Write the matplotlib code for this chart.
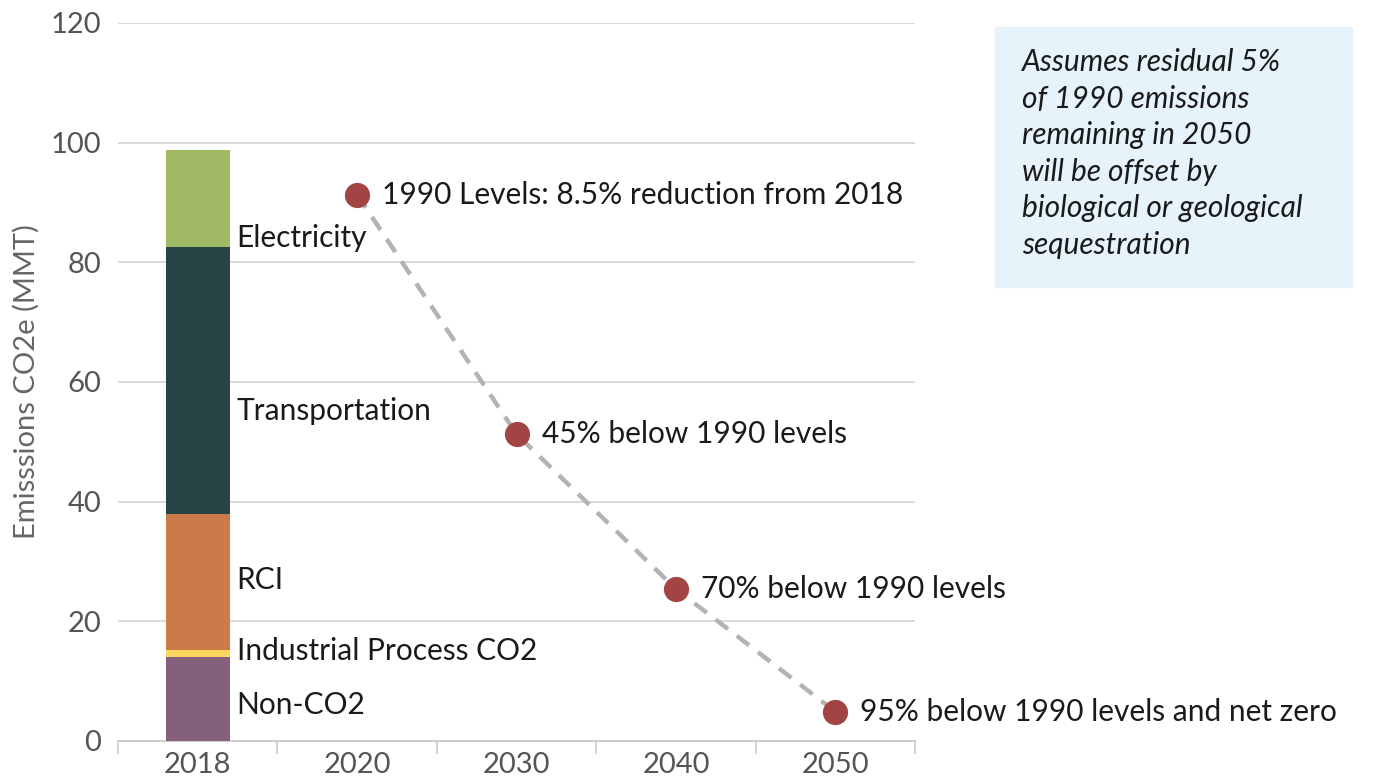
import matplotlib.pyplot as plt
import numpy as np

plt.rcParams['font.family'] = ['Lato', 'DejaVu Sans']

# Data
years = ['2018', '2020', '2030', '2040', '2050']
sectors = ['Non-CO2', 'Industrial Process CO2', 'RCI', 'Transportation', 'Electricity']
sector_values = [14.0, 1.2, 22.8, 44.6, 16.2]
sector_colors = ['#84607D', '#F9D65E', '#CB7A4A', '#264445', '#A1B964']
# where each sector name sits (y, data units)
label_y = [6.0, 15.0, 26.9, 55.2, 84.0]

target_years = ['2020', '2030', '2040', '2050']
target_values = [91.3, 51.3, 25.4, 4.9]
target_labels = ['1990 Levels: 8.5% reduction from 2018',
                 '45% below 1990 levels',
                 '70% below 1990 levels',
                 '95% below 1990 levels and net zero']

note = ('Assumes residual 5%\nof 1990 emissions\nremaining in 2050\n'
        'will be offset by\nbiological or geological\nsequestration')

fig = plt.figure(figsize=(13.82, 7.79), dpi=100)
ax = fig.add_axes([0.0854, 0.0488, 0.5767, 0.9217])

x = np.arange(len(years))
bar_w = 0.4

# stacked bar for 2018
bottom = 0
for name, val, col, ly in zip(sectors, sector_values, sector_colors, label_y):
    ax.bar(x[0], val, bottom=bottom, width=bar_w, color=col, zorder=3)
    ax.annotate(name, (x[0] + bar_w / 2, ly), xytext=(5, 0),
                textcoords='offset points', va='center', ha='left',
                fontsize=21.5, color='#1a1a1a', zorder=4)
    bottom += val

# target path
tx = [years.index(y) for y in target_years]
ax.plot(tx, target_values, color='#B3B3B3', lw=3.2, ls=(0, (3.5, 2.5)), zorder=3)
ax.scatter(tx, target_values, s=330, color='#A34444', zorder=5, linewidths=0)
for xi, yi, lab in zip(tx, target_values, target_labels):
    ax.annotate(lab, (xi, yi), xytext=(18, 0), textcoords='offset points',
                va='center', ha='left', fontsize=21.5, color='#1a1a1a', zorder=6)

ax.set_xlim(-0.5, len(years) - 0.5)
ax.set_ylim(0, 120)
ax.set_yticks(np.arange(0, 121, 20))
ax.set_xticks(x)
ax.set_xticklabels(years)
ax.set_xticks(np.arange(-0.5, len(years), 1), minor=True)
ax.tick_params(axis='x', which='major', length=0, labelsize=21, labelcolor='#555555', pad=8)
ax.tick_params(axis='x', which='minor', length=9, color='#CCCCCC', width=1.2)
ax.tick_params(axis='y', length=0, labelsize=21, labelcolor='#555555', pad=12)
ax.grid(axis='y', color='#D5D5D5', lw=1.3, zorder=0)
for s in ['top', 'right', 'left']:
    ax.spines[s].set_visible(False)
ax.spines['bottom'].set_color('#CCCCCC')
ax.spines['bottom'].set_linewidth(1.3)
ax.set_ylabel('Emisssions CO2e (MMT)', fontsize=21, color='#666666', labelpad=8)

# note box
fig.patches.append(plt.Rectangle((995 / 1382, 1 - 287 / 779), 357 / 1382, 260 / 779,
                                 transform=fig.transFigure, color='#E6F3FA', zorder=0))
fig.text(1022 / 1382, 1 - 48 / 779, note, fontsize=21.5, style='italic',
         color='#1a1a1a', va='top', ha='left', linespacing=1.37)

fig.savefig('out.png', dpi=100)
